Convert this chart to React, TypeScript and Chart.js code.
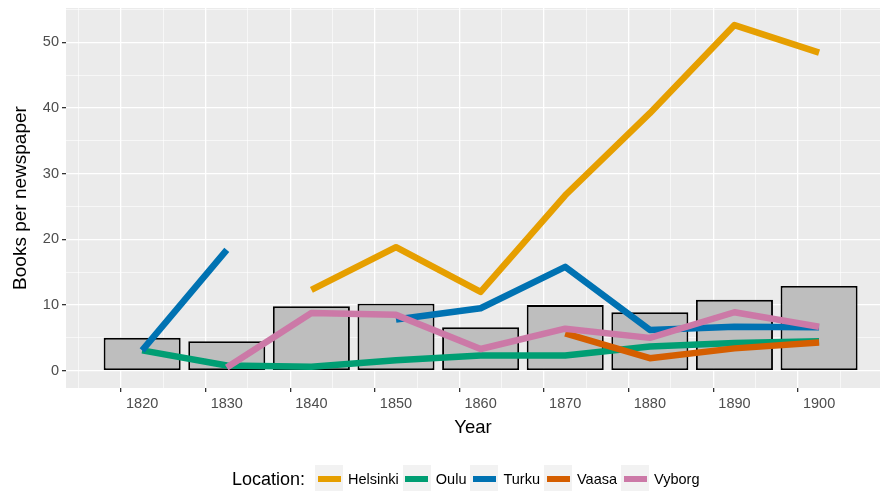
import React, { useEffect, useRef } from "react";
import { Chart, registerables } from "chart.js";

Chart.register(...registerables);

const years = [1820, 1830, 1840, 1850, 1860, 1870, 1880, 1890, 1900];
const barValues = [5.0, 4.5, 9.8, 10.2, 6.6, 10.0, 8.9, 10.8, 12.9];
const helsinki = [null, null, 12.3, 18.8, 12.0, 26.7, 39.2, 52.6, 48.4];
const oulu = [3.1, 0.8, 0.6, 1.6, 2.3, 2.3, 3.7, 4.2, 4.5];
const turku = [3.1, 18.4, null, 7.8, 9.5, 15.8, 6.2, 6.7, 6.6];
const vaasa = [null, null, null, null, null, 5.7, 1.9, 3.4, 4.3];
const vyborg = [null, 0.5, 8.8, 8.5, 3.3, 6.4, 5.0, 8.9, 6.7];

const seriesNames = ["Helsinki", "Oulu", "Turku", "Vaasa", "Vyborg"];
const seriesValues = [helsinki, oulu, turku, vaasa, vyborg];
const seriesColors = ["#E69F00", "#009E73", "#0072B2", "#D55E00", "#CC79A7"];

const legendTitle = "Location:";
const xTitle = "Year";
const yTitle = "Books per newspaper";

const FONT = "'Liberation Sans', Arial, Helvetica, sans-serif";

const panelBg = {
  id: "panelBg",
  beforeDraw(chart: any) {
    const { ctx, chartArea } = chart;
    ctx.save();
    ctx.fillStyle = "#EBEBEB";
    ctx.fillRect(chartArea.left, chartArea.top, chartArea.right - chartArea.left, chartArea.bottom - chartArea.top);
    ctx.restore();
  },
};

export default function App() {
  const ref = useRef<HTMLCanvasElement | null>(null);

  useEffect(() => {
    if (!ref.current) return;
    const toPts = (arr: (number | null)[]) => years.map((x, i) => ({ x, y: arr[i] }));
    const lineSets = seriesNames.map((name, i) => ({
      type: "line" as const,
      label: name,
      data: toPts(seriesValues[i]),
      borderColor: seriesColors[i],
      backgroundColor: seriesColors[i],
      borderWidth: 6.5,
      borderCapStyle: "butt",
      borderJoinStyle: "round",
      pointRadius: 0,
      pointHoverRadius: 0,
      tension: 0,
      spanGaps: false,
      order: seriesNames.length - i,
    }));
    const chart = new Chart(ref.current, {
      type: "bar",
      data: {
        datasets: [
          {
            type: "bar",
            label: "Total",
            data: toPts(barValues),
            backgroundColor: "#BEBEBE",
            borderColor: "#000000",
            borderWidth: 1.9,
            borderSkipped: false,
            barPercentage: 1.82,
            categoryPercentage: 1,
            order: 10,
          } as any,
          ...(lineSets as any[]),
        ],
      },
      options: {
        responsive: false,
        animation: false,
        events: [],
        layout: { padding: { left: 0, right: 3, top: 8, bottom: 0 } },
        plugins: { legend: { display: false }, tooltip: { enabled: false } },
        scales: {
          x: {
            type: "linear",
            min: 1811,
            max: 1907.2,
            offset: false,
            border: { display: false },
            grid: {
              color: "#FFFFFF",
              lineWidth: (c: any) => (c.tick && c.tick.value % 10 === 0 ? 1.3 : 0.6),
              tickColor: (c: any) => (c.tick && c.tick.value % 10 === 0 ? "#333333" : "rgba(0,0,0,0)"),
              tickWidth: 1.3,
              tickLength: 4,
              drawTicks: true,
            },
            ticks: {
              stepSize: 5,
              includeBounds: false,
              autoSkip: false,
              maxRotation: 0,
              padding: 3,
              color: "#4D4D4D",
              font: { family: FONT, size: 14.5 },
              callback: (v: any) => (Number(v) % 10 === 0 ? String(v) : ""),
            },
            title: {
              display: true,
              text: xTitle,
              color: "#000000",
              font: { family: FONT, size: 18.5 },
              padding: { top: 0, bottom: 52 },
            },
            afterFit: (s: any) => {
              s.height = 103;
              s.paddingLeft = 0;
              s.paddingRight = 0;
              s.paddingTop = 0;
              s.paddingBottom = 0;
            },
          },
          y: {
            type: "linear",
            min: -2.63,
            max: 55.2,
            border: { display: false },
            grid: {
              color: "#FFFFFF",
              lineWidth: (c: any) => (c.tick && c.tick.value % 10 === 0 ? 1.3 : 0.6),
              tickColor: (c: any) => (c.tick && c.tick.value % 10 === 0 ? "#333333" : "rgba(0,0,0,0)"),
              tickWidth: 1.3,
              tickLength: 4,
              drawTicks: true,
            },
            ticks: {
              stepSize: 5,
              includeBounds: false,
              autoSkip: false,
              padding: 3,
              color: "#4D4D4D",
              font: { family: FONT, size: 14.5 },
              callback: (v: any) => (Number(v) % 10 === 0 ? String(v) : ""),
            },
            title: {
              display: true,
              text: yTitle,
              color: "#000000",
              font: { family: FONT, size: 19 },
              padding: { top: 9, bottom: 0 },
            },
            afterFit: (s: any) => {
              s.width = 66;
              s.paddingLeft = 0;
              s.paddingRight = 0;
              s.paddingTop = 0;
              s.paddingBottom = 0;
            },
          },
        },
      } as any,
      plugins: [panelBg],
    });
    return () => chart.destroy();
  }, []);

  return (
    <div style={{ position: "absolute", left: 0, top: 0, width: 883, height: 491, background: "#FFFFFF", overflow: "hidden" }}>
      <canvas ref={ref} width={883} height={491} style={{ display: "block", width: 883, height: 491 }} />
      <div
        style={{
          position: "absolute",
          left: 232,
          top: 465,
          height: 28,
          display: "flex",
          alignItems: "center",
          fontFamily: FONT,
          whiteSpace: "nowrap",
        }}
      >
        <span style={{ fontSize: 18, color: "#000000", marginRight: 10 }}>{legendTitle}</span>
        {seriesNames.map((name, i) => (
          <div key={name} style={{ display: "flex", alignItems: "center" }}>
            <div
              style={{
                width: 28,
                height: 28,
                background: "#F2F2F2",
                display: "flex",
                alignItems: "center",
                justifyContent: "center",
              }}
            >
              <div style={{ width: 23, height: 6, background: seriesColors[i] }} />
            </div>
            <span style={{ fontSize: 14.5, color: "#000000", marginLeft: 5, marginRight: 4 }}>{name}</span>
          </div>
        ))}
      </div>
    </div>
  );
}
